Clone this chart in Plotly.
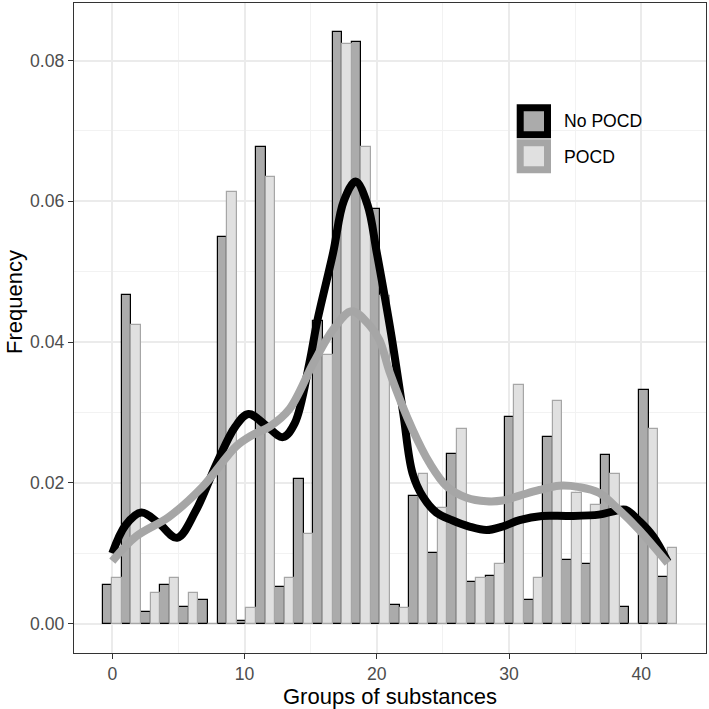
import plotly.graph_objects as go

# ---- data ----
bin_centers = [0.000, 1.448, 2.897, 4.345, 5.793, 7.241, 8.690, 10.138, 11.586, 13.034,
               14.483, 15.931, 17.379, 18.828, 20.276, 21.724, 23.172, 24.621, 26.069, 27.517,
               28.966, 30.414, 31.862, 33.310, 34.759, 36.207, 37.655, 39.103, 40.552, 42.000]

no_pocd_freq = [0.0055, 0.0467, 0.0016, 0.0055, 0.0024, 0.0033, 0.0550, 0.0004, 0.0677, 0.0052,
                0.0206, 0.0430, 0.0840, 0.0827, 0.0589, 0.0026, 0.0181, 0.0100, 0.0241, 0.0059,
                0.0068, 0.0294, 0.0033, 0.0265, 0.0091, 0.0085, 0.0239, 0.0024, 0.0332, 0.0066]

pocd_freq = [0.0065, 0.0424, 0.0043, 0.0065, 0.0043, 0.0000, 0.0613, 0.0022, 0.0634, 0.0065,
             0.0128, 0.0382, 0.0824, 0.0677, 0.0466, 0.0022, 0.0212, 0.0165, 0.0276, 0.0065,
             0.0085, 0.0339, 0.0065, 0.0317, 0.0186, 0.0169, 0.0212, 0.0000, 0.0276, 0.0107]

dens_no_x = [0, 1.0, 2.2, 3.5, 4.9, 6.3, 7.9, 9.3, 10.3, 11.6, 12.9, 13.8, 14.9, 15.5, 16.7,
             17.5, 18.4, 19.3, 20.0, 21.1, 22.0, 22.7, 23.5, 24.5, 25.7, 27.0, 28.3, 29.5,
             30.8, 32.5, 34.5, 36.8, 38.0, 38.8, 39.9, 40.9, 42.0]
dens_no_y = [0.0100, 0.0140, 0.0158, 0.0143, 0.0122, 0.0160, 0.0228, 0.0280, 0.0298, 0.0282,
             0.0265, 0.0285, 0.0370, 0.0430, 0.0527, 0.0600, 0.0628, 0.0595, 0.0527, 0.0410,
             0.0299, 0.0214, 0.0180, 0.0158, 0.0147, 0.0138, 0.0133, 0.0138, 0.0147, 0.0153,
             0.0153, 0.0155, 0.0160, 0.0162, 0.0145, 0.0124, 0.0088]

dens_po_x = [0, 1.8, 4.3, 6.85, 9.37, 10.6, 11.9, 13.4, 15.2, 16.7, 18.1, 19.4, 20.2, 21.0,
             22.7, 24.0, 25.3, 26.8, 28.3, 29.5, 30.8, 32.3, 33.8, 35.3, 36.8, 38.3, 39.8, 42.0]
dens_po_y = [0.0089, 0.0124, 0.0152, 0.0195, 0.0252, 0.0268, 0.0280, 0.0305, 0.0370, 0.0418,
             0.0444, 0.0425, 0.0403, 0.0356, 0.0276, 0.0228, 0.0195, 0.0179, 0.0174, 0.0175,
             0.0182, 0.0190, 0.0196, 0.0194, 0.0186, 0.0162, 0.0134, 0.0086]

x_ticks = [0, 10, 20, 30, 40]
y_ticks = [0.00, 0.02, 0.04, 0.06, 0.08]
group_names = ["No POCD", "POCD"]

# ---- styling ----
W, H = 709, 709
ML, MR, MT, MB = 74, 3, 3, 56
FONT = "Liberation Sans, Arial, Helvetica, sans-serif"
DARK_FILL, DARK_LINE = "#ababab", "#000000"
LIGHT_FILL, LIGHT_LINE = "#e0e0e0", "#a6a6a6"
CURVE_W = 8

fig = go.Figure()
fig.add_trace(go.Bar(x=bin_centers, y=no_pocd_freq, name=group_names[0], offsetgroup="a",
                     marker=dict(color=DARK_FILL, line=dict(color=DARK_LINE, width=1.2)),
                     showlegend=False))
fig.add_trace(go.Bar(x=bin_centers, y=pocd_freq, name=group_names[1], offsetgroup="b",
                     marker=dict(color=LIGHT_FILL, line=dict(color=LIGHT_LINE, width=1.2)),
                     showlegend=False))
fig.add_trace(go.Scatter(x=dens_no_x, y=dens_no_y, mode="lines",
                         line=dict(color="#000000", width=CURVE_W, shape="spline", smoothing=1.0),
                         showlegend=False))
fig.add_trace(go.Scatter(x=dens_po_x, y=dens_po_y, mode="lines",
                         line=dict(color="#a6a6a6", width=CURVE_W, shape="spline", smoothing=1.0),
                         showlegend=False))

pw, ph = W - ML - MR, H - MT - MB
def xp(px):
    return (px - ML) / pw
def yp(py):
    return (H - MB - py) / ph

# custom legend (ggplot-style keys)
shapes = []
key_specs = [(DARK_FILL, DARK_LINE, 107.8, 134.8), (LIGHT_FILL, LIGHT_LINE, 142.8, 169.8)]
for fill, line, y0, y1 in key_specs:
    shapes.append(dict(type="rect", xref="paper", yref="paper",
                       x0=xp(520.2), x1=xp(547.5), y0=yp(y1), y1=yp(y0),
                       fillcolor=fill, line=dict(color=line, width=7), layer="above"))
annotations = []
for name, yc in zip(group_names, [121.5, 156.5]):
    annotations.append(dict(text=name, xref="paper", yref="paper", x=xp(562), y=yp(yc),
                            xanchor="left", yanchor="middle", showarrow=False,
                            font=dict(size=17.6, color="#000000", family=FONT)))
annotations.append(dict(text="Groups of substances", xref="paper", yref="paper",
                        x=0.5, y=yp(696.5), xanchor="center", yanchor="middle", showarrow=False,
                        font=dict(size=22, color="#000000", family=FONT)))
annotations.append(dict(text="Frequency", xref="paper", yref="paper", textangle=-90,
                        x=xp(14), y=yp(302), xanchor="center", yanchor="middle", showarrow=False,
                        font=dict(size=22, color="#000000", family=FONT)))

axis_common = dict(showline=True, mirror=True, linecolor="#333333", linewidth=1.3,
                   ticks="outside", ticklen=5, tickwidth=1.3, tickcolor="#333333",
                   tickfont=dict(size=17.6, color="#4d4d4d", family=FONT),
                   showgrid=True, gridcolor="#ebebeb", gridwidth=1.5, zeroline=False)

fig.update_layout(
    width=W, height=H, margin=dict(l=ML, r=MR, t=MT, b=MB),
    paper_bgcolor="white", plot_bgcolor="white",
    barmode="group", bargap=0, bargroupgap=0,
    shapes=shapes, annotations=annotations, showlegend=False,
    xaxis=dict(range=[-2.896, 44.896], tickvals=x_ticks,
               minor=dict(dtick=5, tick0=0, showgrid=True, gridcolor="#f2f2f2", gridwidth=1),
               **axis_common),
    yaxis=dict(range=[-0.00416, 0.08817], tickvals=y_ticks, tickformat=".2f",
               minor=dict(dtick=0.01, tick0=0, showgrid=True, gridcolor="#f2f2f2", gridwidth=1),
               **axis_common),
)

fig.write_html("out.html", config={"displayModeBar": False},
               post_script="document.body.style.margin='0';document.body.style.overflow='hidden';")
